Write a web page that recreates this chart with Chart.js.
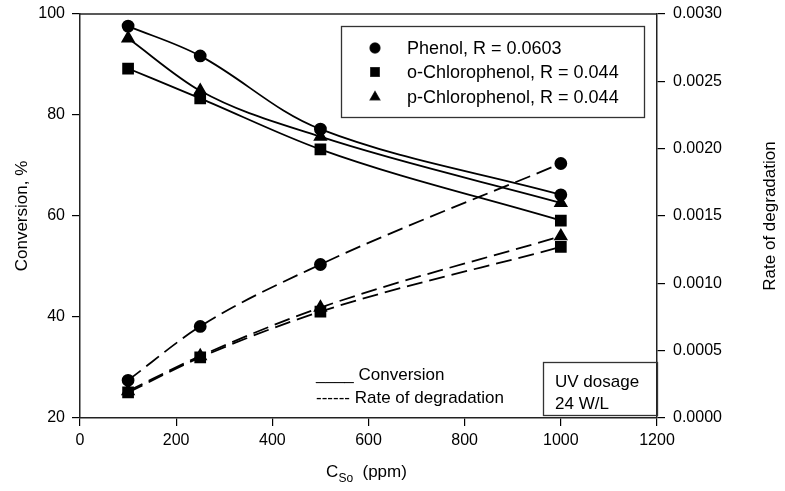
<!DOCTYPE html>
<html>
<head>
<meta charset="utf-8">
<script src="https://cdn.jsdelivr.net/npm/chart.js@4"></script>
<style>
html,body{margin:0;padding:0;background:#fff;}
#wrap{width:785px;height:491px;position:relative;}
</style>
</head>
<body>
<div id="wrap"><canvas id="c" width="785" height="491"></canvas></div>
<script>
const concentrations = [100, 250, 500, 1000];
const phenolConv = [97.6, 91.7, 77.2, 64.2];
const oChloroConv = [89.2, 83.3, 73.2, 59.1];
const pChloroConv = [95.2, 84.8, 75.7, 62.6];
const phenolRate = [0.00028, 0.00068, 0.00114, 0.00189];
const oChloroRate = [0.00019, 0.00045, 0.00079, 0.00127];
const pChloroRate = [0.00020, 0.00046, 0.00082, 0.00135];
const legendLabels = ['Phenol, R = 0.0603', 'o-Chlorophenol, R = 0.044', 'p-Chlorophenol, R = 0.044'];
const xTitle = ['C', 'So', '  (ppm)'];
const yTitle = 'Conversion, %';
const y2Title = 'Rate of degradation';
const lineKey = ['____ Conversion', '------ Rate of degradation'];
const uvNote = ['UV dosage', '24 W/L'];

const FONT = '"Liberation Sans", Arial, sans-serif';
const pts = (arr) => concentrations.map((x, i) => ({x: x, y: arr[i]}));

function ds(data, style, axis, dashed, radius, bezier) {
  const d = {
    data: pts(data), yAxisID: axis,
    borderColor: '#000', backgroundColor: '#000', borderWidth: 1.8,
    borderDash: dashed ? [16, 7] : [],
    pointStyle: style, pointRadius: radius, pointBackgroundColor: '#000', pointBorderColor: '#000',
    fill: false, showLine: true
  };
  if (bezier) { d.tension = 0.35; } else { d.cubicInterpolationMode = 'monotone'; }
  return d;
}

const overlay = {
  id: 'overlay',
  afterDraw(chart) {
    const ctx = chart.ctx, a = chart.chartArea;
    ctx.save();
    ctx.strokeStyle = '#222'; ctx.lineWidth = 1.5;
    ctx.beginPath(); ctx.moveTo(a.left, a.top); ctx.lineTo(a.right, a.top); ctx.stroke();

    ctx.fillStyle = '#000';
    ctx.font = '17px ' + FONT;
    ctx.textAlign = 'center'; ctx.textBaseline = 'middle';
    ctx.save(); ctx.translate(22, (a.top + a.bottom) / 2); ctx.rotate(-Math.PI / 2);
    ctx.fillText(yTitle, 0, 0); ctx.restore();
    ctx.save(); ctx.translate(770, (a.top + a.bottom) / 2); ctx.rotate(-Math.PI / 2);
    ctx.fillText(y2Title, 0, 0); ctx.restore();

    ctx.textAlign = 'left'; ctx.textBaseline = 'alphabetic';
    ctx.font = '17px ' + FONT;
    const wC = ctx.measureText(xTitle[0]).width;
    ctx.font = '12px ' + FONT;
    const wS = ctx.measureText(xTitle[1]).width;
    ctx.font = '17px ' + FONT;
    const wP = ctx.measureText(xTitle[2]).width;
    let x0 = (a.left + a.right) / 2 - (wC + wS + wP) / 2 - 2;
    ctx.fillText(xTitle[0], x0, 477);
    ctx.font = '12px ' + FONT;
    ctx.fillText(xTitle[1], x0 + wC, 482);
    ctx.font = '17px ' + FONT;
    ctx.fillText(xTitle[2], x0 + wC + wS, 477);

    ctx.strokeStyle = '#333'; ctx.lineWidth = 1.3;
    ctx.strokeRect(341.5, 26.5, 303, 91);
    const styles = ['circle', 'rect', 'triangle'];
    const radii = [5, 6, 5.5];
    const rows = [48, 72, 97];
    ctx.font = '18px ' + FONT; ctx.textBaseline = 'middle';
    for (let i = 0; i < 3; i++) {
      ctx.fillStyle = '#000';
      Chart.helpers.drawPoint(ctx, {pointStyle: styles[i], radius: radii[i], borderWidth: 1}, 375, rows[i]);
      ctx.fill();
      ctx.fillText(legendLabels[i], 407, rows[i] + 1);
    }

    ctx.font = '17px ' + FONT; ctx.textBaseline = 'alphabetic';
    ctx.fillText(lineKey[0], 316, 380);
    ctx.fillText(lineKey[1], 316, 403);

    ctx.strokeStyle = '#333'; ctx.lineWidth = 1.3;
    ctx.strokeRect(543.5, 362.5, 114, 53);
    ctx.font = '17px ' + FONT;
    ctx.fillText(uvNote[0], 555, 387);
    ctx.fillText(uvNote[1], 555, 409);
    ctx.restore();
  }
};

const axisCommon = {
  grid: {display: true, drawOnChartArea: false, drawTicks: true, tickLength: 8, color: '#000', lineWidth: 1.2},
  border: {display: true, color: '#222', width: 1.5},
  ticks: {color: '#000', font: {size: 16, family: FONT}, padding: 7}
};
function noPad(s) { s.paddingTop = 0; s.paddingBottom = 0; s.paddingLeft = 0; s.paddingRight = 0; }

new Chart(document.getElementById('c'), {
  type: 'line',
  data: {
    datasets: [
      ds(phenolConv, 'circle', 'y', false, 5.5, true),
      ds(oChloroConv, 'rect', 'y', false, 7, false),
      ds(pChloroConv, 'triangle', 'y', false, 6.5, false),
      ds(phenolRate, 'circle', 'y2', true, 5.5, false),
      ds(oChloroRate, 'rect', 'y2', true, 7, false),
      ds(pChloroRate, 'triangle', 'y2', true, 6.5, false)
    ]
  },
  options: {
    responsive: false, animation: false,
    layout: {padding: {top: 14, left: 0, right: 0, bottom: 0}},
    plugins: {legend: {display: false}, tooltip: {enabled: false}},
    scales: {
      x: Object.assign({}, axisCommon, {
        type: 'linear', min: 0, max: 1200,
        ticks: Object.assign({}, axisCommon.ticks, {stepSize: 200, padding: 5, callback: v => String(v)}),
        afterFit(s) { s.height = 73; noPad(s); }
      }),
      y: Object.assign({}, axisCommon, {
        type: 'linear', position: 'left', min: 20, max: 100,
        ticks: Object.assign({}, axisCommon.ticks, {stepSize: 20, callback: v => String(v)}),
        afterFit(s) { s.width = 80; noPad(s); }
      }),
      y2: Object.assign({}, axisCommon, {
        type: 'linear', position: 'right', min: 0, max: 0.003,
        ticks: Object.assign({}, axisCommon.ticks, {stepSize: 0.0005, callback: v => v.toFixed(4), padding: 8}),
        afterFit(s) { s.width = 128; noPad(s); }
      })
    }
  },
  plugins: [overlay]
});
</script>
</body>
</html>
